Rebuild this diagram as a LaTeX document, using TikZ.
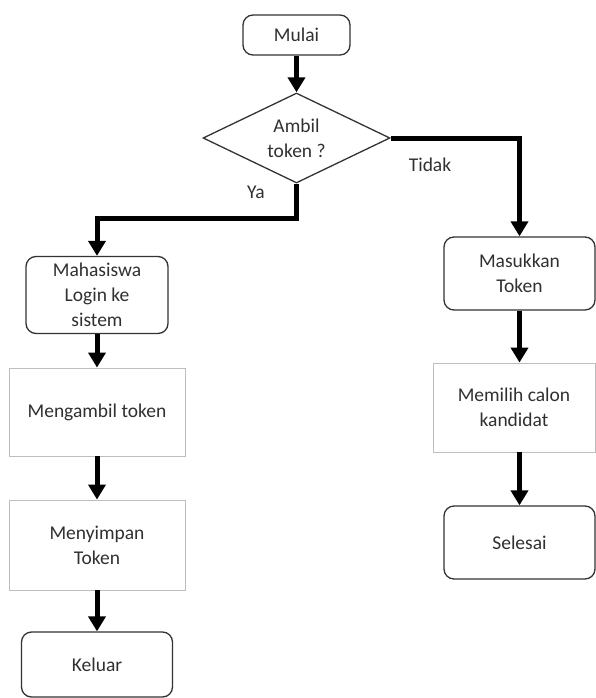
\documentclass[tikz,border=0pt]{standalone}
\usepackage{fontspec}
\setmainfont{Carlito}
\usetikzlibrary{shapes.geometric,arrows.meta}
\definecolor{txt}{HTML}{303030}
\definecolor{rbord}{HTML}{333333}
\definecolor{gbord}{HTML}{BDBDBD}
\tikzset{
  base/.style={text=txt,font=\fontsize{19.5}{25}\selectfont,align=center,inner sep=0pt,fill=white},
  term/.style={base,draw=rbord,line width=1.3pt,rounded corners=10pt},
  proc/.style={base,draw=gbord,line width=0.9pt},
  dec/.style={base,draw=rbord,line width=1.3pt,shape=diamond,aspect=2.08},
  flow/.style={line width=5pt,line join=miter,-{Triangle[width=17pt,length=15pt]}},
  lbl/.style={text=txt,font=\fontsize{19.5}{25}\selectfont,inner sep=0pt}
}
\begin{document}
\begin{tikzpicture}[x=1pt,y=-1pt]
\useasboundingbox (0,0) rectangle (596,698);
\node[term,minimum width=107pt,minimum height=40pt] (mulai) at (296.5,35) {Mulai};
\node[dec,minimum width=187pt,minimum height=90pt] (dia) at (296.5,138) {Ambil\\token ?};
\node[term,minimum width=142pt,minimum height=77pt] (maha) at (97,295) {Mahasiswa\\Login ke\\sistem};
\node[proc,minimum width=176pt,minimum height=88pt] (ambil) at (97,412) {Mengambil token};
\node[proc,minimum width=176pt,minimum height=90pt] (simpan) at (97,545) {Menyimpan\\Token};
\node[term,minimum width=151pt,minimum height=65pt] (keluar) at (97,664.5) {Keluar};
\node[term,minimum width=151pt,minimum height=73pt] (masuk) at (519.5,273.5) {Masukkan\\Token};
\node[proc,minimum width=162pt,minimum height=89pt] (pilih) at (514,407.5) {Memilih calon\\kandidat};
\node[term,minimum width=151pt,minimum height=73pt] (selesai) at (519.5,542.5) {Selesai};
\node[lbl] (ya) at (256,192) {Ya};
\node[lbl] (tidak) at (430,165) {Tidak};
\coordinate (bend) at (296.5,218);
\draw[flow] (mulai.south) -- (dia.north);
\draw[flow] (dia.south) -- (bend) -| (maha.north);
\draw[flow] (dia.east) -| (masuk.north);
\draw[flow] (maha.south) -- (ambil.north);
\draw[flow] (ambil.south) -- (simpan.north);
\draw[flow] (simpan.south) -- (keluar.north);
\draw[flow] (masuk.south) -- (masuk.south |- pilih.north);
\draw[flow] (pilih.south -| masuk.south) -- (selesai.north);
\end{tikzpicture}
\end{document}
